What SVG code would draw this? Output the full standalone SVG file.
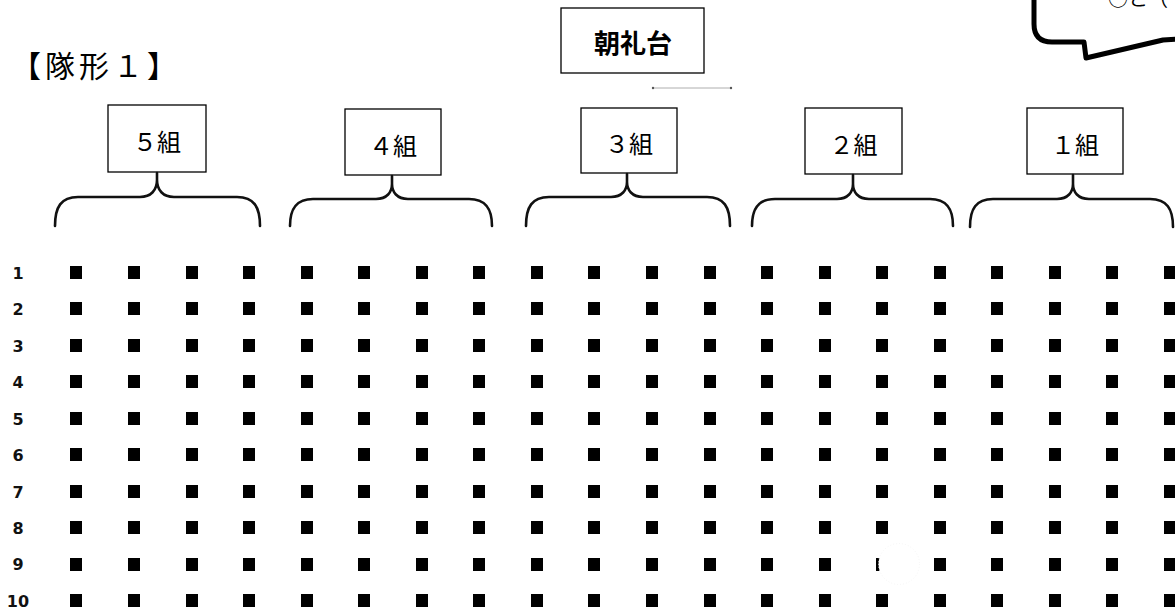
<svg xmlns="http://www.w3.org/2000/svg" xmlns:xlink="http://www.w3.org/1999/xlink" width="1175" height="615" viewBox="0 0 1175 615">
<style>
.box{fill:#fff;stroke:#000;stroke-width:1.3}
.grp{font-family:"Liberation Serif","Noto Sans CJK JP",serif;font-size:24px;fill:#000;text-anchor:middle}
.brace{fill:none;stroke:#111;stroke-width:2.6;stroke-linecap:round;stroke-linejoin:round}
.rowlbl{font-family:"DejaVu Sans","Liberation Sans",sans-serif;font-weight:bold;font-size:16px;fill:#111;text-anchor:middle}
.sq{fill:#000}
</style>
<defs>
<g id="row">
<rect class="sq" x="70" y="0" width="12" height="13"/><rect class="sq" x="128" y="0" width="12" height="13"/><rect class="sq" x="186" y="0" width="12" height="13"/><rect class="sq" x="243" y="0" width="12" height="13"/>
<rect class="sq" x="301" y="0" width="12" height="13"/><rect class="sq" x="358" y="0" width="12" height="13"/><rect class="sq" x="416" y="0" width="12" height="13"/><rect class="sq" x="473" y="0" width="12" height="13"/>
<rect class="sq" x="531" y="0" width="12" height="13"/><rect class="sq" x="588" y="0" width="12" height="13"/><rect class="sq" x="646" y="0" width="12" height="13"/><rect class="sq" x="704" y="0" width="12" height="13"/>
<rect class="sq" x="761" y="0" width="12" height="13"/><rect class="sq" x="819" y="0" width="12" height="13"/><rect class="sq" x="876" y="0" width="12" height="13"/><rect class="sq" x="934" y="0" width="12" height="13"/>
<rect class="sq" x="991" y="0" width="12" height="13"/><rect class="sq" x="1049" y="0" width="12" height="13"/><rect class="sq" x="1106" y="0" width="12" height="13"/><rect class="sq" x="1164" y="0" width="12" height="13"/>
</g>
</defs>
<rect width="1175" height="615" fill="#fff"/>

<g id="title">
<text x="11" y="77" font-family="'Noto Sans CJK JP',sans-serif" font-size="30" letter-spacing="4" fill="#000">【隊形１】</text>
</g>

<g id="callout">
<path d="M1034,-5 L1034,24 Q1034,42 1052,42 L1084,42 L1086,58 L1163,40 L1180,39" fill="none" stroke="#000" stroke-width="5" stroke-linejoin="round"/>
<text x="1108" y="6" font-family="'Noto Sans CJK JP',sans-serif" font-size="20" fill="#000">○と（</text>
</g>

<g id="stage">
<rect class="box" x="561" y="8" width="143" height="65"/>
<text x="633" y="53" font-family="'Noto Sans CJK JP',sans-serif" font-weight="bold" font-size="26" text-anchor="middle" fill="#000">朝礼台</text>
<line x1="653" y1="88" x2="731" y2="88" stroke="#999" stroke-width="0.8"/>
<circle cx="653" cy="88" r="1.2" fill="#555"/><circle cx="731" cy="88" r="1.2" fill="#555"/>
</g>

<g id="group5"><rect class="box" x="108" y="105" width="98" height="67"/><text class="grp" x="157" y="151">５組</text></g>
<g id="group4"><rect class="box" x="345" y="109" width="96" height="66"/><text class="grp" x="393" y="155">４組</text></g>
<g id="group3"><rect class="box" x="581" y="108" width="96" height="65"/><text class="grp" x="629" y="153">３組</text></g>
<g id="group2"><rect class="box" x="805" y="108" width="97" height="66"/><text class="grp" x="853.5" y="154">２組</text></g>
<g id="group1"><rect class="box" x="1027" y="108" width="96" height="66"/><text class="grp" x="1075" y="154">１組</text></g>

<g id="connectors">
<path class="brace" d="M55,226 C55,207 61,197 78,197 L140,197 C151,197 157,190 157,180 L157,173 M157,180 C157,190 163,197 174,197 L237,197 C254,197 260,207 260,226"/>
<path class="brace" d="M290,226 C290,209 296,199 313,199 L376,199 C387,199 392,192 392,184 L392,176 M392,184 C392,192 397,199 408,199 L469,199 C486,199 492,209 492,226"/>
<path class="brace" d="M526,226 C526,207 532,197 549,197 L611,197 C622,197 627,190 627,182 L627,174 M627,182 C627,190 632,197 643,197 L707,197 C724,197 730,207 730,226"/>
<path class="brace" d="M752,226 C752,209 758,199 775,199 L837,199 C848,199 853,192 853,184 L853,175 M853,184 C853,192 858,199 869,199 L930,199 C947,199 953,209 953,226"/>
<path class="brace" d="M970,227 C970,209 976,199 993,199 L1057,199 C1068,199 1073,192 1073,184 L1073,175 M1073,184 C1073,192 1078,199 1089,199 L1150,199 C1167,199 1173,209 1173,227"/>
</g>

<g id="row-labels">
<text class="rowlbl" x="18" y="279">1</text>
<text class="rowlbl" x="18" y="315">2</text>
<text class="rowlbl" x="18" y="352">3</text>
<text class="rowlbl" x="18" y="388">4</text>
<text class="rowlbl" x="18" y="425">5</text>
<text class="rowlbl" x="18" y="461">6</text>
<text class="rowlbl" x="18" y="498">7</text>
<text class="rowlbl" x="18" y="534">8</text>
<text class="rowlbl" x="18" y="570">9</text>
<text class="rowlbl" x="18" y="607">10</text>
</g>

<g id="formation">
<use xlink:href="#row" y="266"/>
<use xlink:href="#row" y="302"/>
<use xlink:href="#row" y="339"/>
<use xlink:href="#row" y="375"/>
<use xlink:href="#row" y="412"/>
<use xlink:href="#row" y="448"/>
<use xlink:href="#row" y="485"/>
<use xlink:href="#row" y="521"/>
<use xlink:href="#row" y="558"/>
<use xlink:href="#row" y="594"/>
<circle cx="899" cy="564" r="20.5" fill="#fff" stroke="#f2f2f2" stroke-width="0.8" stroke-dasharray="1 2"/>
</g>
</svg>
